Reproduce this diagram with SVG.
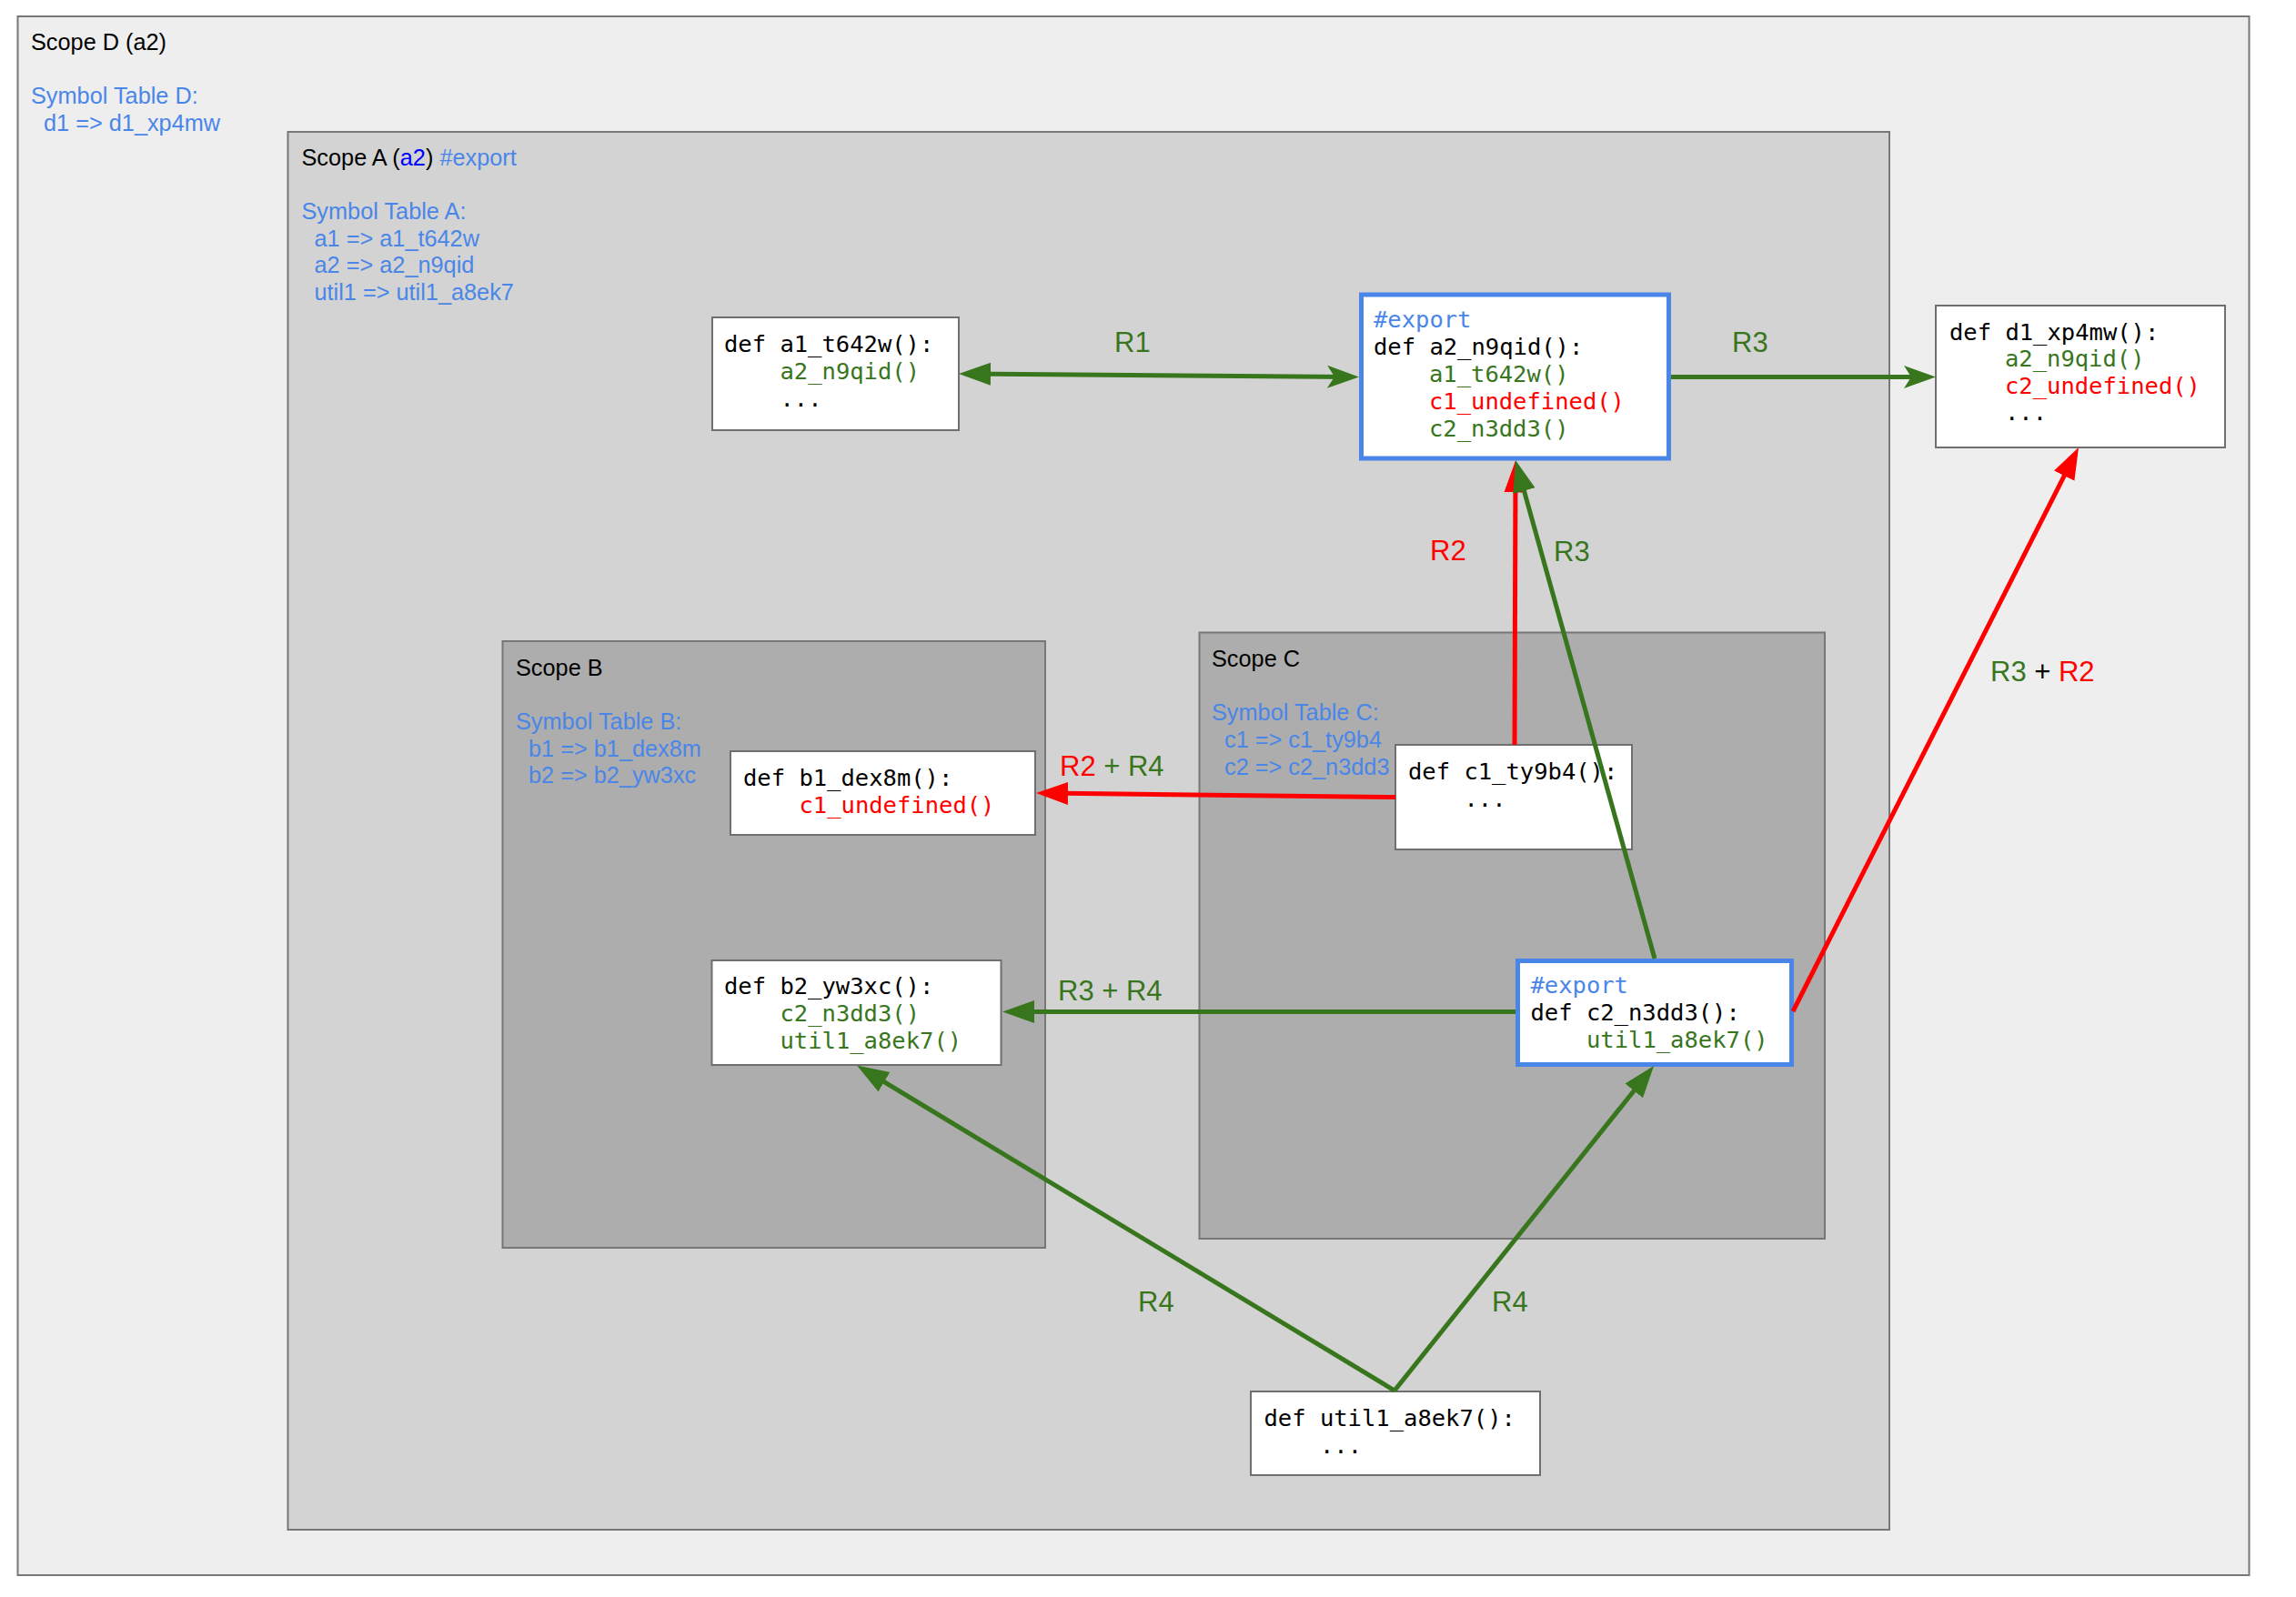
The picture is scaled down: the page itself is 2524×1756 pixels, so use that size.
<svg xmlns="http://www.w3.org/2000/svg" width="2524" height="1756" viewBox="0 0 2524 1756">
<style>
.scope{stroke:#777;stroke-width:2}
.node{fill:#fff;stroke:#6f6f6f;stroke-width:2}
.exp{fill:#fff;stroke:#4a86e8;stroke-width:5}
.lbl{font-family:"Liberation Sans",Arial,sans-serif;font-size:25.3px;fill:#000}
.sym{font-family:"Liberation Sans",Arial,sans-serif;font-size:25.3px;fill:#4a86e8}
.code{font-family:"DejaVu Sans Mono","Liberation Mono",monospace;font-size:25.5px;fill:#000}
.g{fill:#38761d}
.r{fill:#ff0000}
.b{fill:#4a86e8}
.edge{font-family:"Liberation Sans",Arial,sans-serif;font-size:31px}
.lg{stroke:#38761d;stroke-width:5;fill:none}
.lr{stroke:#ff0000;stroke-width:5;fill:none}
</style>
<defs>
<marker id="ag" markerUnits="userSpaceOnUse" markerWidth="36" markerHeight="26" refX="25" refY="12.5" orient="auto-start-reverse" viewBox="0 0 36 26">
<path d="M0,0 L35,12.5 L0,25 z" fill="#38761d"/>
</marker>
<marker id="ar" markerUnits="userSpaceOnUse" markerWidth="36" markerHeight="26" refX="25" refY="12.5" orient="auto" viewBox="0 0 36 26">
<path d="M0,0 L35,12.5 L0,25 z" fill="#ff0000"/>
</marker>
<marker id="sg" markerUnits="userSpaceOnUse" markerWidth="36" markerHeight="26" refX="25" refY="12.5" orient="auto" viewBox="0 0 36 26">
<path d="M0,0 L35,12.5 L0,25 L8,12.5 z" fill="#38761d"/>
</marker>
</defs>

<g id="scopeD">
<rect class="scope" x="19.5" y="18" width="2453" height="1714" fill="#eeeeee"/>
<text class="lbl" x="34" y="55">Scope D (a2)</text>
<text class="sym" x="34" y="114">Symbol Table D:</text>
<text class="sym" x="48" y="143.5">d1 =&gt; d1_xp4mw</text>
</g>

<g id="scopeA">
<rect class="scope" x="316.5" y="145" width="1760.5" height="1537" fill="#d3d3d3"/>
<text class="lbl" x="331.5" y="182">Scope A (<tspan fill="#0000ff">a2</tspan>) <tspan class="b">#export</tspan></text>
<text class="sym" x="331.5" y="241">Symbol Table A:</text>
<text class="sym" x="345.5" y="270.5">a1 =&gt; a1_t642w</text>
<text class="sym" x="345.5" y="300">a2 =&gt; a2_n9qid</text>
<text class="sym" x="345.5" y="329.5">util1 =&gt; util1_a8ek7</text>
</g>

<g id="scopeB">
<rect class="scope" x="552.5" y="705" width="596.5" height="667" fill="#adadad"/>
<text class="lbl" x="567" y="742.5">Scope B</text>
<text class="sym" x="567" y="801.5">Symbol Table B:</text>
<text class="sym" x="581" y="831.5">b1 =&gt; b1_dex8m</text>
<text class="sym" x="581" y="861">b2 =&gt; b2_yw3xc</text>
</g>

<g id="scopeC">
<rect class="scope" x="1318.5" y="695.5" width="687.5" height="666.5" fill="#adadad"/>
<text class="lbl" x="1332" y="733">Scope C</text>
<text class="sym" x="1332" y="792">Symbol Table C:</text>
<text class="sym" x="1346" y="822">c1 =&gt; c1_ty9b4</text>
<text class="sym" x="1346" y="852">c2 =&gt; c2_n3dd3</text>
</g>

<g id="a1_t642w">
<rect class="node" x="783" y="349" width="271" height="124"/>
<text class="code" x="796" y="387">def a1_t642w():</text>
<text class="code g" x="857.5" y="417">a2_n9qid()</text>
<text class="code" x="857.5" y="446.5">...</text>
</g>

<g id="a2_n9qid">
<rect class="exp" x="1496.5" y="324" width="338" height="180"/>
<text class="code b" x="1510" y="360">#export</text>
<text class="code" x="1510" y="390">def a2_n9qid():</text>
<text class="code g" x="1571" y="420">a1_t642w()</text>
<text class="code r" x="1571" y="450">c1_undefined()</text>
<text class="code g" x="1571" y="480">c2_n3dd3()</text>
</g>

<g id="d1_xp4mw">
<rect class="node" x="2128" y="336" width="318" height="156"/>
<text class="code" x="2143" y="373.5">def d1_xp4mw():</text>
<text class="code g" x="2204" y="403">a2_n9qid()</text>
<text class="code r" x="2204" y="432.5">c2_undefined()</text>
<text class="code" x="2204" y="462">...</text>
</g>

<g id="b1_dex8m">
<rect class="node" x="803" y="826" width="335" height="92"/>
<text class="code" x="817" y="863.5">def b1_dex8m():</text>
<text class="code r" x="878.5" y="893.5">c1_undefined()</text>
</g>

<g id="c1_ty9b4">
<rect class="node" x="1534" y="819" width="260" height="115"/>
<text class="code" x="1548" y="857">def c1_ty9b4():</text>
<text class="code" x="1609.5" y="887">...</text>
</g>

<g id="c2_n3dd3">
<rect class="exp" x="1668.5" y="1056.5" width="301" height="114"/>
<text class="code b" x="1682.5" y="1092">#export</text>
<text class="code" x="1682.5" y="1122">def c2_n3dd3():</text>
<text class="code g" x="1744" y="1152">util1_a8ek7()</text>
</g>

<g id="b2_yw3xc">
<rect class="node" x="782.5" y="1056" width="318" height="115"/>
<text class="code" x="796" y="1092.5">def b2_yw3xc():</text>
<text class="code g" x="857.5" y="1122.5">c2_n3dd3()</text>
<text class="code g" x="857.5" y="1152.5">util1_a8ek7()</text>
</g>

<g id="util1_a8ek7">
<rect class="node" x="1375" y="1530" width="318" height="92"/>
<text class="code" x="1389.5" y="1568">def util1_a8ek7():</text>
<text class="code" x="1451" y="1598">...</text>
</g>

<g id="connectors">
<path class="lg" d="M1064,411.1 L1484,414.4" marker-start="url(#ag)" marker-end="url(#sg)"/>
<path class="lg" d="M1837,414.5 L2118,414.5" marker-end="url(#sg)"/>
<path class="lr" d="M1665,819 L1666,516.5" marker-end="url(#ar)"/>
<path class="lg" d="M1819,1054 L1668.7,515.6" marker-end="url(#ag)"/>
<path class="lr" d="M1534,876.5 L1149,872.1" marker-end="url(#ar)"/>
<path class="lg" d="M1666,1112.5 L1112,1112.5" marker-end="url(#ag)"/>
<path class="lg" d="M1533,1529 L950.6,1176.7" marker-end="url(#ag)"/>
<path class="lg" d="M1533,1529 L1811.8,1179.8" marker-end="url(#ag)"/>
<path class="lr" d="M1971,1112 L2280.5,500.9" marker-end="url(#ar)"/>
<text class="edge g" x="1225" y="387">R1</text>
<text class="edge g" x="1904" y="387">R3</text>
<text class="edge r" x="1572" y="616">R2</text>
<text class="edge g" x="1708" y="617">R3</text>
<text class="edge" x="1165" y="853"><tspan class="r">R2</tspan><tspan class="g"> + R4</tspan></text>
<text class="edge g" x="1163" y="1100">R3 + R4</text>
<text class="edge g" x="1251" y="1442">R4</text>
<text class="edge g" x="1640" y="1442">R4</text>
<text class="edge" x="2188" y="749"><tspan class="g">R3</tspan> + <tspan class="r">R2</tspan></text>
</g>
</svg>
